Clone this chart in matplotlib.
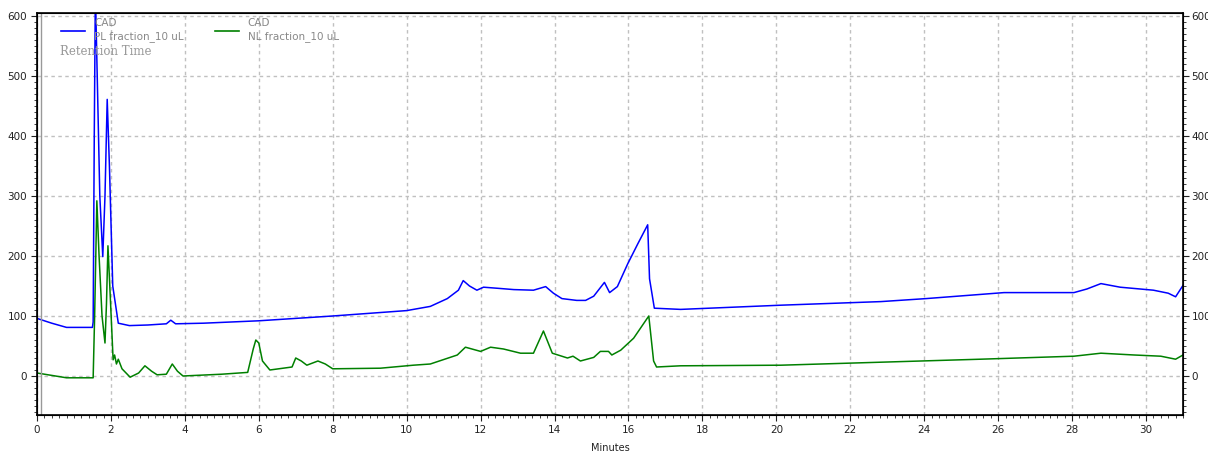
import matplotlib
matplotlib.use("Agg")
import matplotlib.pyplot as plt
from matplotlib.ticker import MultipleLocator

# PL fraction (blue)
pl_time = [0.0, 0.4, 0.8, 1.5, 1.52, 1.55, 1.58, 1.63, 1.70, 1.78, 1.84, 1.90, 1.96, 2.05,
           2.2, 2.5, 3.0, 3.5, 3.62, 3.75, 4.5, 6.0, 8.0, 10.0, 10.64, 11.1, 11.4, 11.53,
           11.7, 11.9, 12.08, 12.5, 12.9, 13.43, 13.76, 13.97, 14.2, 14.6, 14.84, 15.06,
           15.35, 15.49, 15.7, 15.98, 16.25, 16.52, 16.57, 16.7, 17.41, 20.12, 22.83,
           24.05, 25.53, 26.16, 28.05, 28.4, 28.78, 29.3, 30.2, 30.6, 30.8, 31.0]
pl_vals = [96, 88, 81, 81, 90, 400, 640, 500, 300, 199, 300, 461, 350, 150,
           88, 84, 85, 87, 93, 87, 88, 92, 100, 109, 116, 129, 143, 159,
           150, 143, 148, 146, 144, 143, 149, 138, 129, 126, 126, 133,
           156, 139, 149, 187, 220, 252, 162, 113, 111, 118, 124,
           129, 136, 139, 139, 145, 154, 148, 143, 138, 132, 151]

# NL fraction (green)
nl_time = [0.0, 0.4, 0.8, 1.52, 1.56, 1.62, 1.68, 1.76, 1.84, 1.88, 1.92, 1.97, 2.06, 2.1,
           2.15, 2.2, 2.3, 2.52, 2.75, 2.92, 3.1, 3.25, 3.5, 3.66, 3.8, 3.95, 5.0, 5.7,
           5.85, 5.92, 6.0, 6.1, 6.3, 6.9, 7.0, 7.15, 7.3, 7.6, 7.8, 8.0, 9.29, 10.18,
           10.64, 11.37, 11.59, 12.0, 12.27, 12.62, 13.08, 13.43, 13.7, 13.94, 14.35,
           14.5, 14.7, 15.06, 15.24, 15.46, 15.55, 15.79, 16.14, 16.55, 16.68, 16.76,
           17.41, 20.12, 22.83, 25.53, 28.05, 28.78, 29.68, 30.4, 30.8, 31.0]
nl_vals = [5, 1, -3, -3, 100, 292, 200, 100, 55, 120, 217, 150, 27, 35,
           20, 28, 12, -2, 5, 17, 8, 2, 3, 20, 8, 0, 3, 6,
           45, 60, 55, 25, 10, 15, 30, 25, 18, 25, 20, 12, 13, 18,
           20, 35, 48, 41, 48, 45, 38, 38, 75, 38, 30,
           33, 25, 31, 41, 41, 35, 43, 63, 100, 25, 15,
           17, 18, 23, 28, 33, 38, 35, 33, 28, 35]

x_ticks = list(range(0, 31, 2))
y_ticks = [0, 100, 200, 300, 400, 500, 600]

fig = plt.figure(figsize=(12.08, 4.54), dpi=100)
ax = fig.add_axes([0.0306, 0.0859, 0.9487, 0.8855])

ax.plot(pl_time, pl_vals, color="#0000ff", lw=1.1)
ax.plot(nl_time, nl_vals, color="#008000", lw=1.1)
ax.axvline(0.12, color="#999999", lw=1)

ax.set_xlim(0, 31)
ax.set_ylim(-65, 605)
ax.set_xticks(x_ticks)
ax.set_yticks(y_ticks)
ax.xaxis.set_minor_locator(MultipleLocator(0.2))
ax.yaxis.set_minor_locator(MultipleLocator(10))
ax.grid(True, which="major", color="#c0c0c0", ls=(0, (2.5, 2.5)), lw=1)
ax.tick_params(which="major", length=4, labelsize=7.5, colors="#222222", pad=3)
ax.tick_params(which="minor", length=2, color="#222222")
for s in ax.spines.values():
    s.set_linewidth(1.2)

ax2 = ax.twinx()
ax2.set_ylim(-65, 605)
ax2.set_yticks(y_ticks)
ax2.yaxis.set_minor_locator(MultipleLocator(10))
ax2.tick_params(which="major", length=4, labelsize=7.5, colors="#222222", pad=2)
ax2.tick_params(which="minor", length=2, color="#222222")

ax.set_xlabel("Minutes", fontsize=7, color="#222222", labelpad=6)

# legend drawn by hand like the instrument software
tr = ax.transAxes
ax.plot([0.021, 0.042], [0.955, 0.955], transform=tr, color="#0000ff", lw=1.2)
ax.text(0.050, 0.975, "CAD", transform=tr, fontsize=7.5, color="#888888", va="center")
ax.text(0.050, 0.942, "PL fraction_10 uL", transform=tr, fontsize=7.5, color="#888888", va="center")
ax.plot([0.155, 0.176], [0.955, 0.955], transform=tr, color="#008000", lw=1.2)
ax.text(0.184, 0.975, "CAD", transform=tr, fontsize=7.5, color="#888888", va="center")
ax.text(0.184, 0.942, "NL fraction_10 uL", transform=tr, fontsize=7.5, color="#888888", va="center")
ax.text(0.020, 0.905, "Retention Time", transform=tr, fontsize=8.5, color="#999999",
        va="center", family="DejaVu Serif")

fig.savefig("out.png", dpi=100)
